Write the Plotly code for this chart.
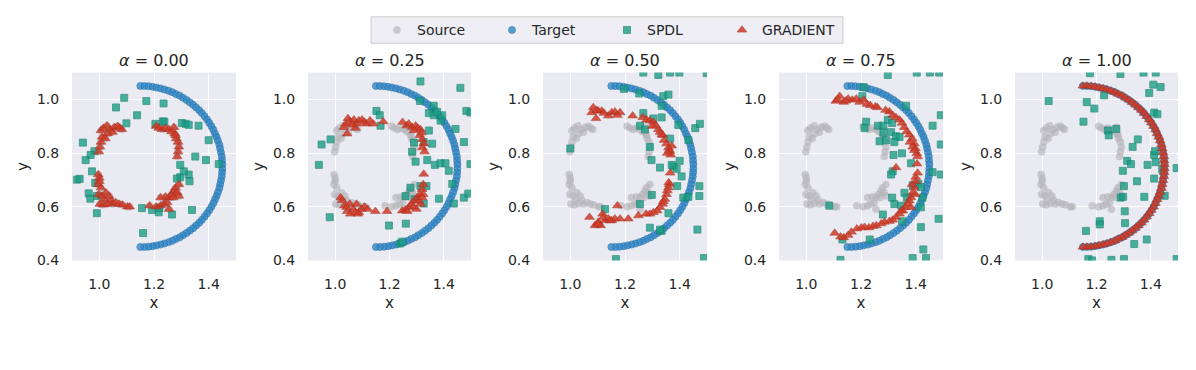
import plotly.graph_objects as go

# alpha values of the five panels
alphas = [0.00, 0.25, 0.50, 0.75, 1.00]

# source cloud (same in every panel)
source_x = [0.998, 1.002, 1.006, 1.010, 1.006, 1.015, 1.028, 1.040, 1.048, 1.055, 1.067, 1.075, 1.082, 1.030, 1.022,
            1.208, 1.218, 1.230, 1.242, 1.255, 1.264, 1.276, 1.281, 1.288, 1.291, 1.288, 1.285, 1.279, 1.273,
            0.996, 1.000, 1.000, 0.996, 1.006, 0.998, 1.010, 1.018, 1.002, 1.015, 1.030, 1.042, 1.048, 1.060,
            1.073, 1.085, 1.103, 1.111, 1.036, 1.024,
            1.184, 1.208, 1.224, 1.236, 1.248, 1.255, 1.264, 1.273, 1.279, 1.285, 1.291, 1.270, 1.242, 1.224,
            1.291, 1.255]
source_y = [0.805, 0.823, 0.841, 0.860, 0.884, 0.893, 0.902, 0.888, 0.878, 0.896, 0.900, 0.893, 0.888, 0.872, 0.854,
            0.900, 0.893, 0.888, 0.893, 0.888, 0.880, 0.872, 0.854, 0.841, 0.823, 0.805, 0.787, 0.866, 0.896,
            0.720, 0.707, 0.695, 0.683, 0.671, 0.646, 0.640, 0.628, 0.610, 0.607, 0.612, 0.624, 0.610, 0.616,
            0.610, 0.607, 0.600, 0.600, 0.640, 0.652,
            0.604, 0.600, 0.604, 0.610, 0.616, 0.634, 0.646, 0.659, 0.671, 0.652, 0.640, 0.634, 0.637, 0.634,
            0.683, 0.591]

# target half ring (same in every panel)
target_x = [1.150, 1.165, 1.180, 1.195, 1.209, 1.224, 1.238, 1.253, 1.267, 1.280, 1.294, 1.306, 1.319, 1.331,
            1.343, 1.354, 1.365, 1.375, 1.385, 1.394, 1.402, 1.410, 1.417, 1.423, 1.429, 1.434, 1.439, 1.442,
            1.445, 1.448, 1.449, 1.450,
            1.450, 1.449, 1.448, 1.445, 1.442, 1.439, 1.434, 1.429, 1.423, 1.417, 1.410, 1.402, 1.394, 1.385,
            1.375, 1.365, 1.354, 1.343, 1.331, 1.319, 1.306, 1.294, 1.280, 1.267, 1.253, 1.238, 1.224, 1.209,
            1.195, 1.180, 1.165, 1.150]
target_y = [1.050, 1.050, 1.049, 1.047, 1.044, 1.041, 1.037, 1.032, 1.027, 1.020, 1.014, 1.006, 0.998, 0.989,
            0.980, 0.970, 0.960, 0.949, 0.937, 0.925, 0.913, 0.900, 0.887, 0.873, 0.860, 0.846, 0.831, 0.817,
            0.802, 0.787, 0.772, 0.758,
            0.742, 0.728, 0.713, 0.698, 0.683, 0.669, 0.654, 0.640, 0.627, 0.613, 0.600, 0.587, 0.575, 0.563,
            0.551, 0.540, 0.530, 0.520, 0.511, 0.502, 0.494, 0.486, 0.480, 0.473, 0.468, 0.463, 0.459, 0.456,
            0.453, 0.451, 0.450, 0.450]

# SPDL samples per panel
spdl_x_000 = [1.091, 1.061, 1.172, 1.235, 1.138, 1.099, 1.205, 1.232, 1.238, 1.302, 1.316, 1.327, 1.363, 1.400,
              0.940, 0.982, 0.968, 0.950, 1.351, 1.390, 1.437, 0.973, 0.918, 0.928, 0.985, 1.327, 1.296, 1.284,
              1.309, 1.330, 0.961, 0.967, 0.991, 0.991, 1.156, 1.193, 1.217, 1.220, 1.266, 1.339, 1.160, 1.296]
spdl_y_000 = [1.006, 0.970, 0.994, 0.985, 0.941, 0.911, 0.909, 0.918, 0.917, 0.912, 0.909, 0.905, 0.902, 0.848,
              0.839, 0.807, 0.793, 0.774, 0.787, 0.774, 0.759, 0.732, 0.701, 0.704, 0.689, 0.720, 0.710, 0.705,
              0.732, 0.695, 0.650, 0.630, 0.640, 0.576, 0.595, 0.588, 0.579, 0.595, 0.571, 0.588, 0.502, 0.756]

spdl_x_025 = [1.314, 1.461, 1.312, 1.363, 1.345, 1.388, 1.394, 1.363, 1.375, 1.483, 1.498, 1.443, 1.152, 1.164,
              1.167, 1.345, 1.290, 1.326, 1.357, 1.474, 1.283, 1.296, 1.339, 1.367, 1.388, 1.406, 1.418, 1.498,
              0.950, 0.983, 0.940, 1.277, 1.314, 1.336, 1.259, 1.292, 1.326, 1.382, 1.431, 1.437, 1.474, 1.490,
              0.980, 1.198, 1.260, 1.240, 1.247]
spdl_y_025 = [1.067, 1.043, 0.994, 0.976, 0.949, 0.921, 0.941, 0.941, 0.954, 0.957, 0.951, 0.890, 0.957, 0.941,
              0.902, 0.884, 0.839, 0.841, 0.835, 0.841, 0.805, 0.768, 0.774, 0.756, 0.762, 0.762, 0.734, 0.759,
              0.832, 0.851, 0.756, 0.671, 0.677, 0.677, 0.640, 0.628, 0.612, 0.630, 0.685, 0.612, 0.634, 0.649,
              0.561, 0.530, 0.537, 0.463, 0.470]

spdl_x_050 = [1.267, 1.322, 1.365, 1.399, 1.499, 1.196, 1.252, 1.340, 1.359, 1.334, 1.267, 1.304, 1.334, 1.395,
              1.457, 1.474, 1.255, 1.273, 1.365, 1.432, 1.000, 1.291, 1.297, 1.328, 1.377, 1.389, 1.400, 1.407,
              1.371, 1.391, 1.413, 1.432, 1.472, 1.472, 1.298, 1.255, 1.359, 1.291, 1.334, 1.328, 1.465, 1.127,
              1.167, 1.489]
spdl_y_050 = [1.100, 1.091, 1.100, 1.100, 1.098, 1.039, 1.022, 1.012, 1.018, 0.976, 0.949, 0.929, 0.933, 0.905,
              0.893, 0.909, 0.902, 0.888, 0.854, 0.848, 0.817, 0.823, 0.774, 0.746, 0.750, 0.741, 0.771, 0.713,
              0.756, 0.677, 0.634, 0.637, 0.677, 0.640, 0.644, 0.610, 0.576, 0.522, 0.510, 0.515, 0.515, 0.591,
              0.405, 0.409]

spdl_x_075 = [1.298, 1.404, 1.452, 1.486, 1.210, 1.205, 1.365, 1.492, 1.462, 1.219, 1.213, 1.262, 1.282, 1.298,
              1.314, 1.268, 1.292, 1.310, 1.282, 1.328, 1.341, 1.492, 1.322, 1.319, 1.350, 1.383, 1.316, 1.310,
              1.462, 1.492, 1.389, 1.410, 1.419, 1.425, 1.359, 1.368, 1.314, 1.322, 1.347, 1.350, 1.084, 1.280,
              1.419, 1.419, 1.484, 1.232, 1.132, 1.389, 1.428, 1.438, 1.125]
spdl_y_075 = [1.091, 1.100, 1.100, 1.100, 1.046, 1.012, 0.976, 0.941, 0.902, 0.917, 0.893, 0.902, 0.902, 0.924,
              0.912, 0.844, 0.848, 0.878, 0.876, 0.863, 0.860, 0.832, 0.841, 0.793, 0.799, 0.762, 0.732, 0.720,
              0.729, 0.720, 0.680, 0.685, 0.673, 0.634, 0.652, 0.634, 0.634, 0.610, 0.604, 0.546, 0.604, 0.571,
              0.598, 0.524, 0.555, 0.478, 0.478, 0.409, 0.441, 0.409, 0.402]

spdl_x_100 = [1.176, 1.288, 1.373, 1.418, 1.409, 1.436, 1.394, 1.228, 1.164, 1.192, 1.024, 1.152, 1.412, 1.424,
              1.242, 1.245, 1.273, 1.352, 1.333, 1.412, 1.415, 1.418, 1.388, 1.313, 1.327, 1.297, 1.442, 1.495,
              1.349, 1.301, 1.412, 1.376, 1.451, 1.289, 1.298, 1.304, 1.305, 1.212, 1.212, 1.161, 1.385, 1.339,
              1.170, 1.255, 1.301, 1.184, 1.495]
spdl_y_100 = [1.098, 1.095, 1.100, 1.100, 1.055, 1.046, 1.024, 1.015, 0.990, 0.966, 0.994, 0.917, 0.951, 0.945,
              0.884, 0.866, 0.890, 0.851, 0.823, 0.793, 0.807, 0.766, 0.756, 0.771, 0.759, 0.734, 0.738, 0.744,
              0.695, 0.677, 0.705, 0.637, 0.641, 0.634, 0.637, 0.583, 0.539, 0.546, 0.534, 0.510, 0.478, 0.461,
              0.405, 0.402, 0.405, 0.400, 0.405]

# GRADIENT samples per panel (alpha = 0 sits on the source, alpha = 1 on the target)
grad_x_025 = [1.047, 1.039, 1.054, 1.069, 1.079, 1.087, 1.099, 1.108, 1.115, 1.128, 1.140, 1.177, 1.075, 1.044,
              1.063, 1.032,
              1.248, 1.263, 1.271, 1.283, 1.296, 1.304, 1.314, 1.312, 1.320, 1.326, 1.321, 1.329, 1.326, 1.290,
              1.318,
              1.026, 1.034, 1.044, 1.056, 1.066, 1.079, 1.087, 1.096, 1.108, 1.120, 1.148, 1.191, 1.054, 1.042,
              1.075, 1.084, 1.020,
              1.247, 1.259, 1.271, 1.280, 1.292, 1.302, 1.312, 1.320, 1.314, 1.299, 1.324, 1.308, 1.287, 1.320,
              1.324, 1.265]
grad_y_025 = [0.929, 0.909, 0.917, 0.924, 0.909, 0.921, 0.924, 0.915, 0.909, 0.921, 0.909, 0.917, 0.893, 0.872,
              0.905, 0.896,
              0.915, 0.902, 0.909, 0.896, 0.902, 0.893, 0.888, 0.866, 0.851, 0.835, 0.820, 0.805, 0.722, 0.884,
              0.876,
              0.624, 0.604, 0.583, 0.573, 0.591, 0.610, 0.579, 0.591, 0.600, 0.591, 0.583, 0.583, 0.610, 0.598,
              0.579, 0.573, 0.634,
              0.585, 0.588, 0.598, 0.610, 0.622, 0.634, 0.646, 0.665, 0.610, 0.591, 0.646, 0.622, 0.600, 0.634,
              0.683, 0.583]

grad_x_050 = [1.084, 1.078, 1.094, 1.102, 1.115, 1.123, 1.139, 1.151, 1.163, 1.172, 1.182, 1.096, 1.228, 1.265,
              1.279, 1.291, 1.304, 1.313, 1.322, 1.328, 1.338, 1.343, 1.352, 1.359, 1.365, 1.367, 1.362, 1.371,
              1.300, 1.335, 1.355,
              1.365, 1.362, 1.359, 1.352, 1.346, 1.338, 1.328, 1.318, 1.304, 1.291, 1.277, 1.249, 1.212, 1.070,
              1.090, 1.102, 1.111, 1.118, 1.127, 1.139, 1.151, 1.163, 1.172, 1.182, 1.340, 1.355, 1.100, 1.120,
              1.145, 1.360]
grad_y_050 = [0.970, 0.951, 0.929, 0.957, 0.957, 0.949, 0.939, 0.951, 0.954, 0.941, 0.951, 0.960, 0.939, 0.933,
              0.924, 0.921, 0.915, 0.902, 0.888, 0.878, 0.866, 0.848, 0.835, 0.820, 0.805, 0.793, 0.811, 0.827,
              0.900, 0.870, 0.800,
              0.726, 0.683, 0.671, 0.646, 0.628, 0.610, 0.598, 0.585, 0.579, 0.573, 0.573, 0.567, 0.555, 0.561,
              0.530, 0.543, 0.530, 0.573, 0.549, 0.555, 0.549, 0.555, 0.604, 0.555, 0.620, 0.660, 0.535, 0.560,
              0.548, 0.690]

grad_x_075 = [1.108, 1.122, 1.137, 1.153, 1.168, 1.183, 1.195, 1.210, 1.222, 1.234, 1.253, 1.304, 1.316, 1.328,
              1.341, 1.350, 1.358, 1.367, 1.377, 1.387, 1.395, 1.399, 1.404, 1.407, 1.389, 1.379, 1.328, 1.115,
              1.145, 1.260, 1.290, 1.395, 1.405, 1.400,
              1.407, 1.401, 1.395, 1.389, 1.383, 1.377, 1.371, 1.362, 1.353, 1.341, 1.328, 1.316, 1.304, 1.286,
              1.274, 1.256, 1.244, 1.229, 1.213, 1.201, 1.185, 1.165, 1.153, 1.137, 1.125, 1.104, 1.387, 1.399,
              1.383, 1.347]
grad_y_075 = [0.994, 1.012, 0.990, 1.002, 0.998, 1.002, 0.990, 0.998, 0.982, 0.978, 0.973, 0.954, 0.941, 0.933,
              0.924, 0.912, 0.896, 0.880, 0.868, 0.854, 0.835, 0.817, 0.799, 0.787, 0.823, 0.841, 0.746, 1.000,
              0.995, 0.970, 0.960, 0.810, 0.760, 0.710,
              0.726, 0.695, 0.671, 0.652, 0.634, 0.622, 0.610, 0.598, 0.585, 0.573, 0.561, 0.551, 0.546, 0.543,
              0.537, 0.530, 0.527, 0.522, 0.524, 0.522, 0.518, 0.506, 0.494, 0.485, 0.488, 0.502, 0.683, 0.646,
              0.598, 0.585]

spdl_x = [spdl_x_000, spdl_x_025, spdl_x_050, spdl_x_075, spdl_x_100]
spdl_y = [spdl_y_000, spdl_y_025, spdl_y_050, spdl_y_075, spdl_y_100]
grad_x = [source_x, grad_x_025, grad_x_050, grad_x_075, target_x]
grad_y = [source_y, grad_y_025, grad_y_050, grad_y_075, target_y]

# panel placement in pixels of the page (the page body adds an 8 px offset)
W, H, OFF = 1196, 370, 8
panel_px = [(72, 236), (308, 471), (543, 707), (779, 943), (1015, 1178)]
x_domains = [[(l - OFF) / W, (r - OFF) / W] for l, r in panel_px]
y_domain = [1 - (266 - OFF) / H, 1 - (74 - OFF) / H]

FONT = "DejaVu Sans"
TXT = "#262626"
BG = "#EAEAF2"

fig = go.Figure()

for i, a in enumerate(alphas):
    xa = "x" if i == 0 else f"x{i + 1}"
    ya = "y" if i == 0 else f"y{i + 1}"
    first = i == 0
    fig.add_trace(go.Scatter(
        x=source_x, y=source_y, mode="markers", name="Source", showlegend=first,
        xaxis=xa, yaxis=ya,
        marker=dict(symbol="circle", size=7.5, color="#b4b4b8", opacity=0.65, line=dict(width=0))))
    fig.add_trace(go.Scatter(
        x=target_x, y=target_y, mode="markers", name="Target", showlegend=first,
        xaxis=xa, yaxis=ya,
        marker=dict(symbol="circle", size=7, color="#3189c8", opacity=0.8,
                    line=dict(width=0.8, color="#236fa6"))))
    fig.add_trace(go.Scatter(
        x=spdl_x[i], y=spdl_y[i], mode="markers", name="SPDL", showlegend=first,
        xaxis=xa, yaxis=ya,
        marker=dict(symbol="square", size=7, color="#1c9e86", opacity=0.8,
                    line=dict(width=0.8, color="#14806b"))))
    fig.add_trace(go.Scatter(
        x=grad_x[i], y=grad_y[i], mode="markers", name="GRADIENT", showlegend=first,
        xaxis=xa, yaxis=ya,
        marker=dict(symbol="triangle-up", size=8.5, color="#d03c28", opacity=0.85,
                    line=dict(width=0.6, color="#a82e1e"))))

    grid = dict(showgrid=True, gridcolor="white", gridwidth=1.2, zeroline=False, showline=False,
                ticks="outside", tickcolor="rgba(0,0,0,0)",
                tickfont=dict(family=FONT, size=14, color=TXT), tickformat=".1f")
    fig.layout[f"xaxis{'' if i == 0 else i + 1}"] = dict(
        domain=x_domains[i], range=[0.9, 1.5], anchor=ya, tickvals=[1.0, 1.2, 1.4], ticklen=11,
        title=dict(text="x", font=dict(family=FONT, size=15, color=TXT), standoff=6),
        **grid)
    fig.layout[f"yaxis{'' if i == 0 else i + 1}"] = dict(
        domain=y_domain, range=[0.4, 1.1], anchor=xa, tickvals=[0.4, 0.6, 0.8, 1.0], ticklen=9,
        title=dict(text="y", font=dict(family=FONT, size=15, color=TXT), standoff=4),
        **grid)
    fig.add_annotation(
        x=(x_domains[i][0] + x_domains[i][1]) / 2, y=1 - (62 - OFF) / H, xref="paper", yref="paper",
        text=f"<i>α</i> = {a:.2f}", showarrow=False, xanchor="center", yanchor="middle",
        font=dict(family=FONT, size=16, color=TXT))

# legend frame drawn as a shape, the legend itself is transparent on top of it
fig.add_shape(type="rect", xref="paper", yref="paper",
              x0=(371 - OFF) / W, x1=(843 - OFF) / W, y0=1 - (44 - OFF) / H, y1=1 - (17 - OFF) / H,
              fillcolor="#EEEEF4", line=dict(color="#cccccc", width=1), layer="below")

fig.update_layout(
    width=W, height=H,
    margin=dict(l=0, r=0, t=0, b=0),
    paper_bgcolor="white", plot_bgcolor=BG,
    font=dict(family=FONT, color=TXT),
    legend=dict(orientation="h", x=(377 - OFF) / W, y=1 - (14.5 - OFF) / H,
                xanchor="left", yanchor="top",
                bgcolor="rgba(0,0,0,0)", borderwidth=0,
                font=dict(family=FONT, size=14, color=TXT), entrywidth=70),
)

fig.write_html("out.html")
